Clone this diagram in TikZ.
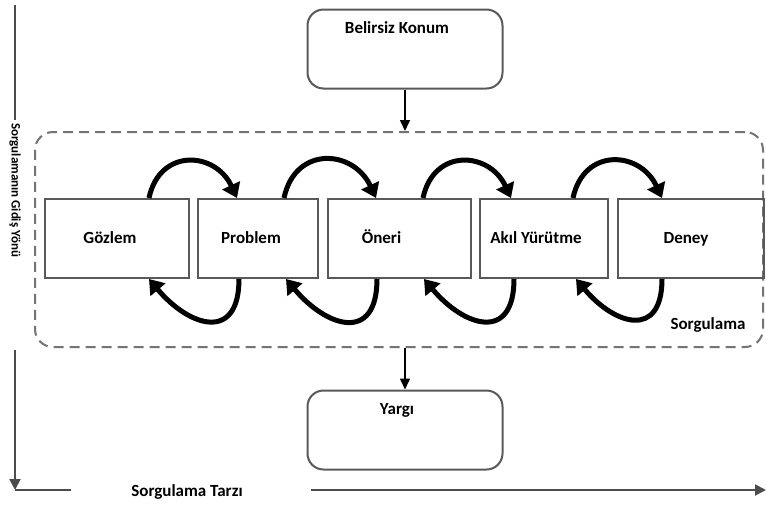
\documentclass[tikz,border=0pt]{standalone}
\usepackage{fontspec}
\setmainfont{Carlito}
\usetikzlibrary{arrows.meta}
\begin{document}
\begin{tikzpicture}[
    x=1pt, y=1pt,
    every node/.style={font=\fontsize{17}{20}\selectfont\bfseries},
    adim/.style={rectangle, draw=black!65, line width=2pt, minimum height=79pt, text height=10pt, text depth=0pt},
    durum/.style={rectangle, draw=black!65, line width=2pt, rounded corners=16pt, minimum width=195pt, minimum height=79pt},
    cerceve/.style={rectangle, draw=black!55, line width=2pt, dash pattern=on 10pt off 6pt, rounded corners=18pt, minimum width=728pt, minimum height=215pt},
    dongu/.style={-{Triangle[length=14pt,width=19pt]}, line width=5pt, looseness=1.5},
    akis/.style={-{Triangle[length=11pt,width=10pt]}, line width=1.5pt},
    eksen/.style={draw=black!70, line width=2pt},
    eksenok/.style={-{Triangle[length=11pt,width=11pt]}}
]
    \useasboundingbox (0,0) rectangle (766,-504);

    % Belirsiz konum
    \node[durum] (konum) at (405,-49) {};
    \node (konumyazi) at (397,-28) {Belirsiz Konum};

    % Sorgulama cercevesi
    \node[cerceve] (sorgu) at (399,-239.5) {};
    \node (sorguyazi) at (708,-325) {Sorgulama};

    % Adimlar
    \node[adim, minimum width=144pt] (gozlem) at (117,-238.5) {Gözlem\kern14pt};
    \node[adim, minimum width=120pt] (problem) at (258,-238.5) {Problem\kern14pt};
    \node[adim, minimum width=143pt] (oneri) at (399.5,-238.5) {Öneri\kern36pt};
    \node[adim, minimum width=128pt] (akil) at (544,-238.5) {Akıl Yürütme\kern16pt};
    \node[adim, minimum width=146pt] (deney) at (691,-238.5) {Deney\kern10pt};

    % Ileri donguler
    \draw[dongu] ([xshift=-41]gozlem.north east) to[out=78, in=115] ([xshift=40]problem.north west);
    \draw[dongu] ([xshift=-35]problem.north east) to[out=78, in=115] ([xshift=49]oneri.north west);
    \draw[dongu] ([xshift=-49]oneri.north east) to[out=78, in=115] ([xshift=32]akil.north west);
    \draw[dongu] ([xshift=-36]akil.north east) to[out=78, in=115] ([xshift=45]deney.north west);

    % Geri donguler
    \draw[dongu, looseness=1.8] ([xshift=42]problem.south west) to[out=-90, in=-50] ([xshift=-41]gozlem.south east);
    \draw[dongu, looseness=1.8] ([xshift=50]oneri.south west) to[out=-90, in=-50] ([xshift=-33]problem.south east);
    \draw[dongu, looseness=1.8] ([xshift=35]akil.south west) to[out=-90, in=-50] ([xshift=-48]oneri.south east);
    \draw[dongu, looseness=1.8] ([xshift=45]deney.south west) to[out=-90, in=-50] ([xshift=-33]akil.south east);

    % Yargi
    \node[durum] (yargi) at (405,-430) {};
    \node (yargiyazi) at (397,-410) {Yargı};

    \draw[akis] (konum) -- (konum |- sorgu.north);
    \draw[akis] (sorgu.south -| yargi.north) -- (yargi);

    % Eksenler
    \coordinate (ust) at (15,-5);
    \coordinate (alt) at (15,-350);
    \coordinate (kose) at (15,-490);
    \coordinate (kisa) at (71,-490);
    \coordinate (uzun) at (311,-490);
    \coordinate (son) at (766,-490);
    \node[rotate=-90, font=\fontsize{13}{15}\selectfont\bfseries] (yon) at (15,-190) {Sorgulamanın Gidiş Yönü};
    \node (tarz) at (187,-492) {Sorgulama Tarzı};

    \draw[eksen] (ust) -- (yon.west);
    \draw[eksen, eksenok] (alt) -- (kose);
    \draw[eksen] (kose) -- (kisa);
    \draw[eksen, eksenok] (uzun) -- (son);
\end{tikzpicture}
\end{document}
